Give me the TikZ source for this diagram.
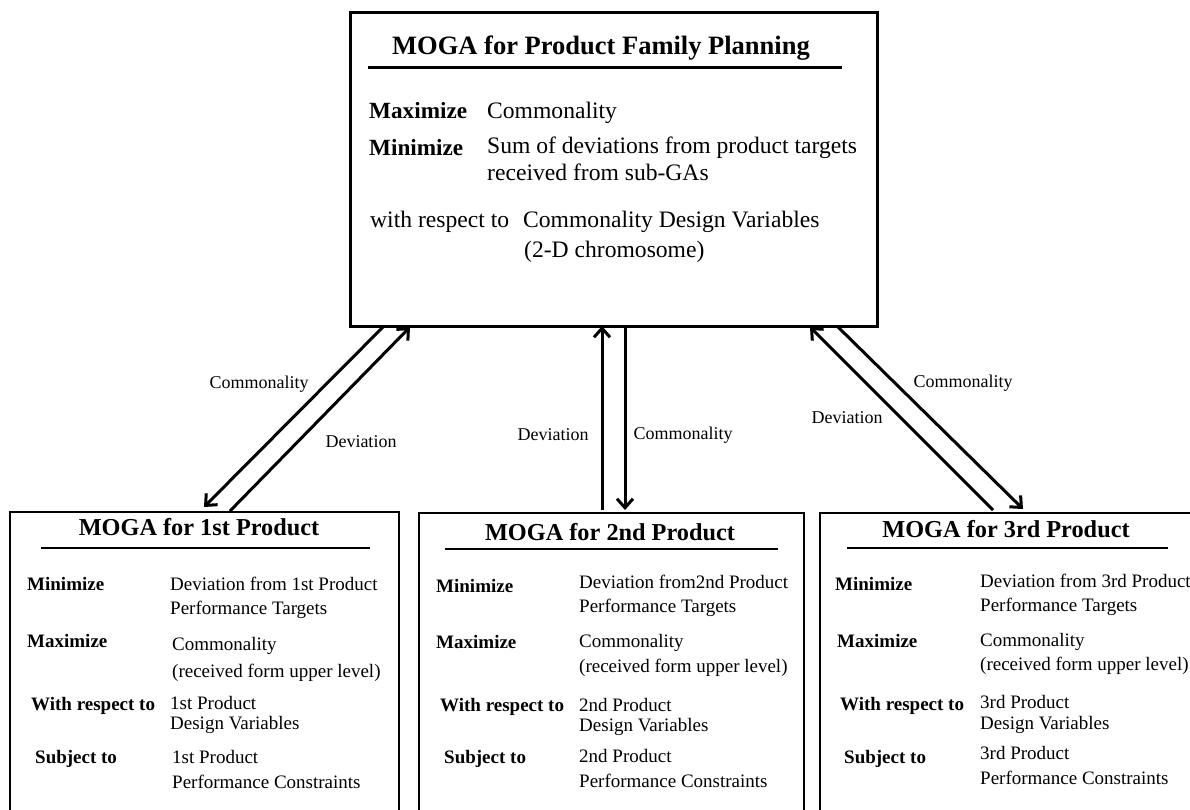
\documentclass[tikz,border=0pt]{standalone}
\usepackage{fontspec}
\setmainfont{Liberation Serif}
\usetikzlibrary{arrows.meta}

\tikzset{
  topbox/.style={draw, line width=3.4pt, inner sep=0pt, anchor=north west},
  subbox/.style={draw, line width=1.8pt, inner sep=0pt, anchor=north west},
  toptitle/.style={anchor=base, inner sep=0pt, font=\fontsize{26.5}{32}\selectfont\bfseries},
  subtitle/.style={anchor=base, inner sep=0pt, font=\fontsize{24.3}{28}\selectfont\bfseries},
  toptext/.style={anchor=base west, inner sep=0pt, font=\fontsize{23.6}{28}\selectfont},
  toplabel/.style={anchor=base west, inner sep=0pt, font=\fontsize{23.2}{28}\selectfont\bfseries},
  subtext/.style={anchor=base west, inner sep=0pt, font=\fontsize{19}{23}\selectfont},
  sublabel/.style={anchor=base west, inner sep=0pt, font=\fontsize{19}{23}\selectfont\bfseries},
  flowtext/.style={inner sep=0pt, font=\fontsize{18}{22}\selectfont},
  flow/.style={->, >={Straight Barb[length=9pt,width=16pt]}, line width=3pt},
}

\begin{document}
\begin{tikzpicture}[x=1pt, y=-1pt]
        \clip (0,0) rectangle (1190,809);
        \fill[white] (0,0) rectangle (1190,809);
        % upper level
        \node[topbox, minimum width=527pt, minimum height=314pt] (planbox) at (349,11) {};
        \node[toptitle] (plantitle) at (601,54) {MOGA for Product Family Planning};
        \draw[line width=3pt] (368,67) -- (842,67);
        \node[toplabel] (planmax) at (369,118) {Maximize};
        \node[toptext] (planmaxv) at (487,118) {Commonality};
        \node[toplabel] (planmin) at (369,155) {Minimize};
        \node[toptext] (planminv) at (487,153) {Sum of deviations from product targets};
        \node[toptext] (planminw) at (487,180) {received from sub-GAs};
        \node[toptext] (planwrt) at (370,227) {with respect to};
        \node[toptext] (planwrtv) at (523,227) {Commonality Design Variables};
        \node[toptext] (planwrtw) at (524,257) {(2-D chromosome)};

        % 1st product
        \node[subbox, minimum width=389pt, minimum height=330pt] (prodA) at (9,511) {};
        \node[subtitle] (prodAtitle) at (199,535) {MOGA for 1st Product};
        \draw[line width=2pt] (41,548) -- (370,548);
        \node[sublabel] (prodAmin) at (27,590) {Minimize};
        \node[subtext] at (170,590) {Deviation from 1st Product};
        \node[subtext] at (170,614) {Performance Targets};
        \node[sublabel] (prodAmax) at (27,647) {Maximize};
        \node[subtext] at (172,650) {Commonality};
        \node[subtext] at (172,677) {(received form upper level)};
        \node[sublabel] (prodAwrt) at (31,710) {With respect to};
        \node[subtext] at (170,709) {1st Product};
        \node[subtext] at (170,729) {Design Variables};
        \node[sublabel] (prodAsub) at (35,763) {Subject to};
        \node[subtext] at (172,763) {1st Product};
        \node[subtext] at (172,788) {Performance Constraints};

        % 2nd product
        \node[subbox, minimum width=385pt, minimum height=330pt] (prodB) at (418,512) {};
        \node[subtitle] (prodBtitle) at (610,540) {MOGA for 2nd Product};
        \draw[line width=2pt] (445,549) -- (778,549);
        \node[sublabel] (prodBmin) at (436,592) {Minimize};
        \node[subtext] at (579,588) {Deviation from2nd Product};
        \node[subtext] at (579,612) {Performance Targets};
        \node[sublabel] (prodBmax) at (436,648) {Maximize};
        \node[subtext] at (579,647) {Commonality};
        \node[subtext] at (579,672) {(received form upper level)};
        \node[sublabel] (prodBwrt) at (440,711) {With respect to};
        \node[subtext] at (579,711) {2nd Product};
        \node[subtext] at (579,731) {Design Variables};
        \node[sublabel] (prodBsub) at (444,763) {Subject to};
        \node[subtext] at (579,762) {2nd Product};
        \node[subtext] at (579,787) {Performance Constraints};

        % 3rd product
        \node[subbox, minimum width=400pt, minimum height=330pt] (prodC) at (819,512) {};
        \node[subtitle] (prodCtitle) at (1006,537) {MOGA for 3rd Product};
        \draw[line width=2pt] (847,548) -- (1168,548);
        \node[sublabel] (prodCmin) at (835,590) {Minimize};
        \node[subtext] at (980,587) {Deviation from 3rd Product};
        \node[subtext] at (980,611) {Performance Targets};
        \node[sublabel] (prodCmax) at (837,647) {Maximize};
        \node[subtext] at (980,646) {Commonality};
        \node[subtext] at (980,670) {(received form upper level)};
        \node[sublabel] (prodCwrt) at (840,710) {With respect to};
        \node[subtext] at (980,708) {3rd Product};
        \node[subtext] at (980,729) {Design Variables};
        \node[sublabel] (prodCsub) at (844,763) {Subject to};
        \node[subtext] at (980,759) {3rd Product};
        \node[subtext] at (980,784) {Performance Constraints};

        % arrow ends
        \coordinate (aTopC) at (383,327);
        \coordinate (aBotC) at (204,507);
        \coordinate (aBotD) at (230,511);
        \coordinate (aTopD) at (410,327);
        \coordinate (bBotD) at (602,510);
        \coordinate (bTopD) at (602,326);
        \coordinate (bTopC) at (625,327);
        \coordinate (bBotC) at (625,510);
        \coordinate (cBotD) at (993,510);
        \coordinate (cTopD) at (810,327);
        \coordinate (cTopC) at (838,327);
        \coordinate (cBotC) at (1023,509);

        \draw[flow] (aTopC) -- (aBotC);
        \draw[flow] (aBotD) -- (aTopD);
        \draw[flow] (bBotD) -- (bTopD);
        \draw[flow] (bTopC) -- (bBotC);
        \draw[flow] (cBotD) -- (cTopD);
        \draw[flow] (cTopC) -- (cBotC);

        \node[flowtext] (aComm) at (259,384) {Commonality};
        \node[flowtext] (aDev) at (361,442) {Deviation};
        \node[flowtext] (bDev) at (553,435) {Deviation};
        \node[flowtext] (bComm) at (683,435) {Commonality};
        \node[flowtext] (cComm) at (963,383) {Commonality};
        \node[flowtext] (cDev) at (847,418) {Deviation};
\end{tikzpicture}
\end{document}
